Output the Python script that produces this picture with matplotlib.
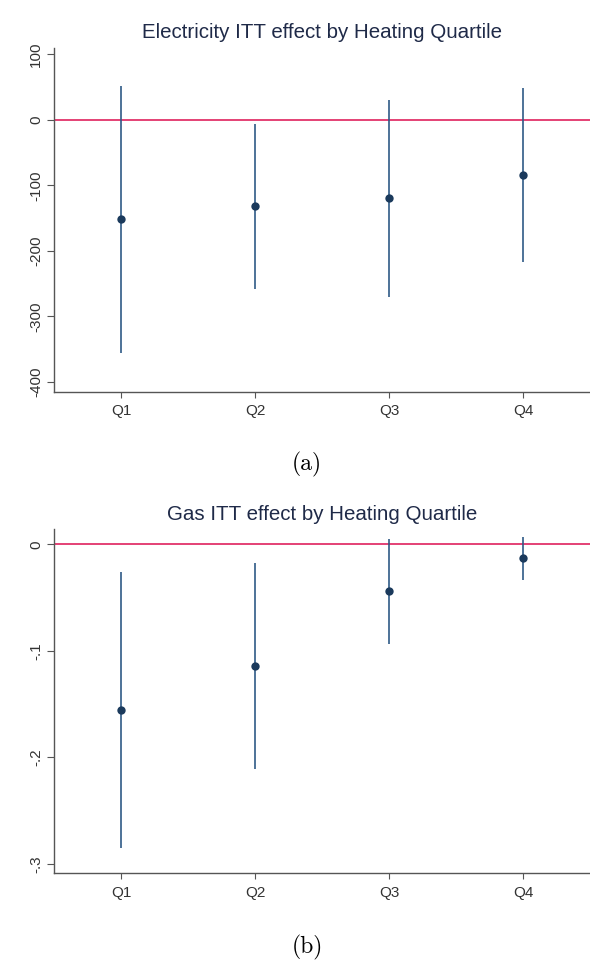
import matplotlib
matplotlib.use("Agg")
import matplotlib.pyplot as plt
import numpy as np

# ---------------- data ----------------
quartiles = ["Q1", "Q2", "Q3", "Q4"]

elec_point = [-151, -132, -120, -84]
elec_low = [-356, -258, -271, -217]
elec_high = [52, -6, 30, 48]
elec_yticks = [100, 0, -100, -200, -300, -400]
elec_yticklabels = ["100", "0", "-100", "-200", "-300", "-400"]

gas_point = [-0.1556, -0.114, -0.0438, -0.0132]
gas_low = [-0.2855, -0.2113, -0.0939, -0.0335]
gas_high = [-0.0257, -0.0172, 0.005, 0.0072]
gas_yticks = [0, -0.1, -0.2, -0.3]
gas_yticklabels = ["0", "-.1", "-.2", "-.3"]

titles = ["Electricity ITT effect by Heating Quartile",
          "Gas ITT effect by Heating Quartile"]
captions = ["(a)", "(b)"]

# ---------------- style ----------------
W, H = 590, 966
fig = plt.figure(figsize=(W / 100, H / 100), dpi=100)
fig.patch.set_facecolor("white")

line_color = "#2f5a86"
marker_color = "#1b3a5c"
ref_color = "#e2336a"
spine_color = "#555555"
text_color = "#333333"
title_color = "#1f2a48"


def px_rect(left, top, right, bottom):
    return [left / W, 1 - bottom / H, (right - left) / W, (bottom - top) / H]


panels = [
    dict(rect=px_rect(54.3, 47.7, 590, 391.7), point=elec_point, low=elec_low,
         high=elec_high, yticks=elec_yticks, ylabels=elec_yticklabels,
         ylim=(-415, 110), title=titles[0], title_y=32, caption=captions[0],
         cap_y=464),
    dict(rect=px_rect(54.3, 529.3, 590, 873.3), point=gas_point, low=gas_low,
         high=gas_high, yticks=gas_yticks, ylabels=gas_yticklabels,
         ylim=(-0.309, 0.0141), title=titles[1], title_y=515, caption=captions[1],
         cap_y=947),
]

x = np.arange(1, len(quartiles) + 1)

for p in panels:
    ax = fig.add_axes(p["rect"])
    ax.set_facecolor("white")
    ax.axhline(0, color=ref_color, lw=1.3, zorder=1)
    ax.vlines(x, p["low"], p["high"], color=line_color, lw=1.2, zorder=2)
    ax.plot(x, p["point"], "o", color=marker_color, ms=6, zorder=3,
            markeredgewidth=0)
    ax.set_xlim(0.5, 4.5)
    ax.set_ylim(*p["ylim"])
    ax.set_xticks(x)
    ax.set_xticklabels(quartiles, fontsize=11, color=text_color,
                       family="Liberation Sans")
    ax.set_yticks(p["yticks"])
    ax.set_yticklabels(p["ylabels"], fontsize=11, color=text_color,
                       family="Liberation Sans", rotation=90, va="center")
    for s in ["top", "right"]:
        ax.spines[s].set_visible(False)
    for s in ["left", "bottom"]:
        ax.spines[s].set_color(spine_color)
        ax.spines[s].set_linewidth(1.0)
    ax.tick_params(axis="x", length=4, width=0.8, color=spine_color, pad=5)
    ax.tick_params(axis="y", length=5, width=0.8, color=spine_color, pad=3)
    fig.text(322 / W, 1 - p["title_y"] / H, p["title"], ha="center",
             va="center", fontsize=14.8, color=title_color,
             family="Liberation Sans")
    fig.text(307 / W, 1 - p["cap_y"] / H, p["caption"], ha="center",
             va="center", fontsize=17, color="black", family="cmr10")

fig.savefig("out.png", dpi=100, facecolor="white")
